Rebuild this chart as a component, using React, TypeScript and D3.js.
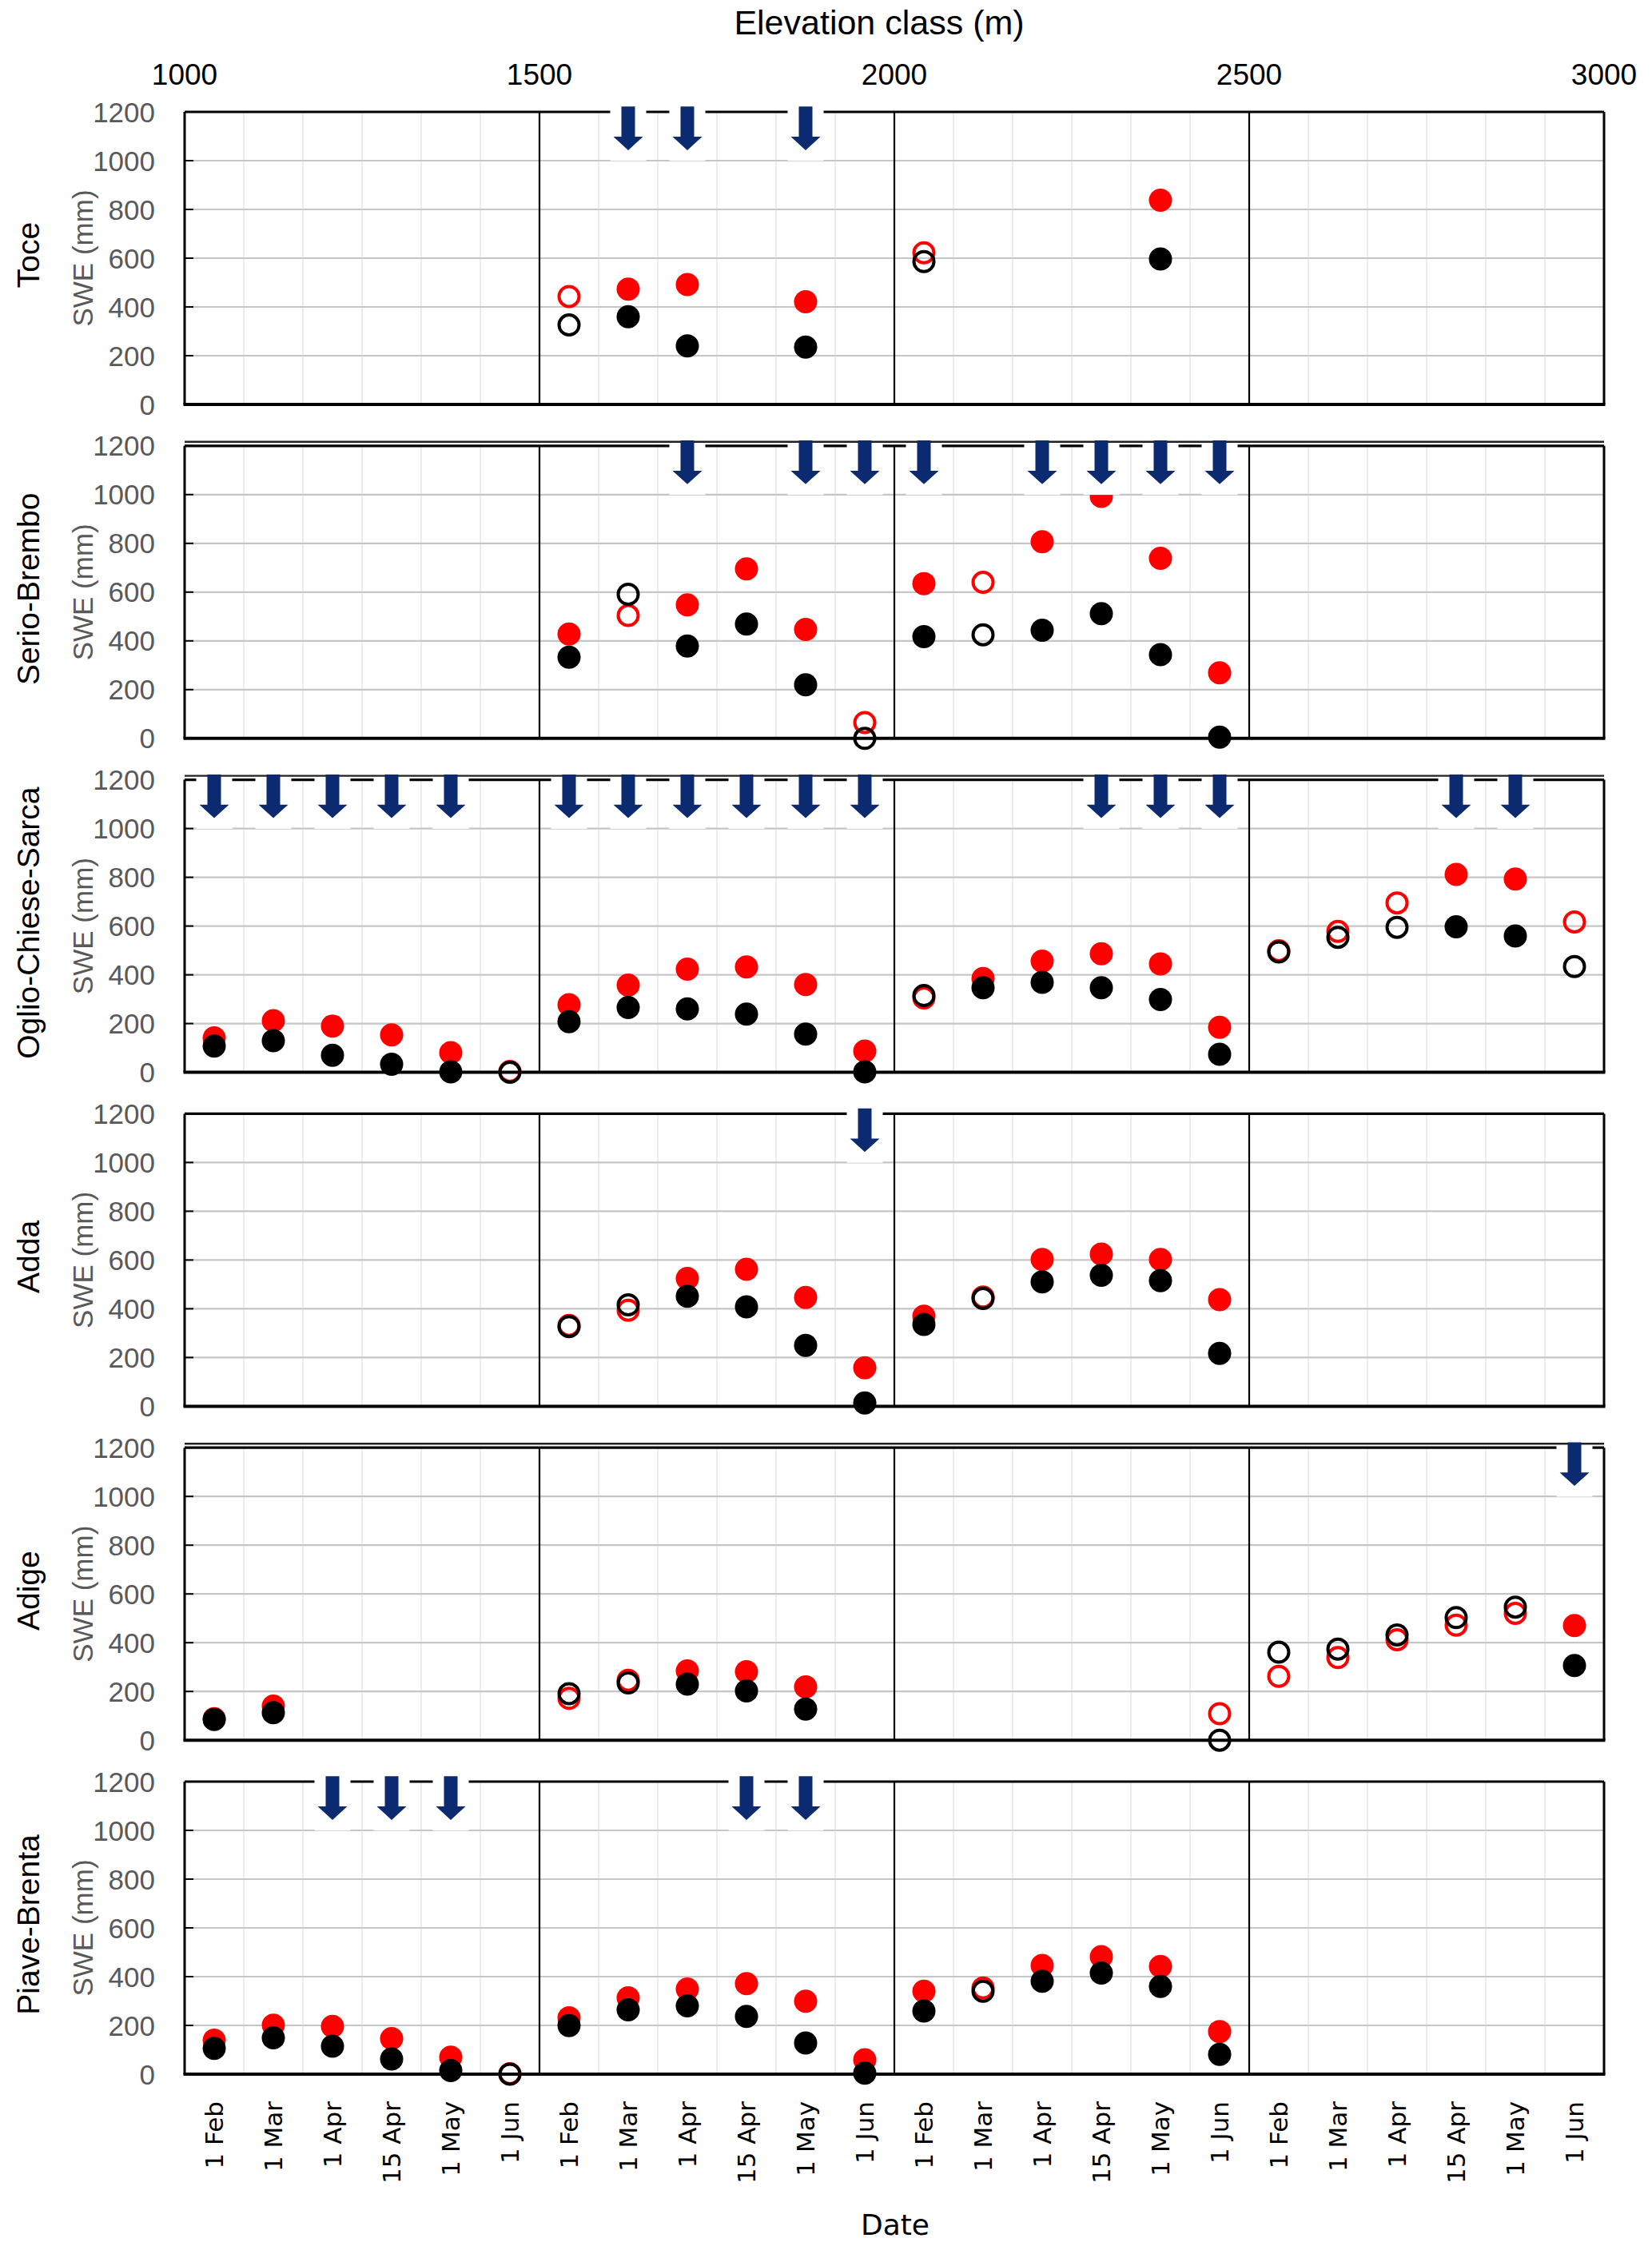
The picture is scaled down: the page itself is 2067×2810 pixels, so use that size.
import * as d3 from 'd3';

// categories
const dates = ['1 Feb', '1 Mar', '1 Apr', '15 Apr', '1 May', '1 Jun'];
const elevClasses = [1000, 1500, 2000, 2500];
const elevTicks = [1000, 1500, 2000, 2500, 3000];
const basinNames = ['Toce', 'Serio-Brembo', 'Oglio-Chiese-Sarca', 'Adda', 'Adige', 'Piave-Brenta'];

const n = null;
const empty = [n, n, n, n, n, n];

// SWE (mm), one row per elevation class, one column per date
const toceRed = [empty, [443, 473, 492, n, 421, n], [622, n, n, n, 838, n], empty];
const toceBlack = [empty, [326, 360, 240, n, 235, n], [586, n, n, n, 597, n], empty];
const toceFilled = [[0, 0, 0, 0, 0, 0], [0, 1, 1, 0, 1, 0], [0, 0, 0, 0, 1, 0], [0, 0, 0, 0, 0, 0]];
const toceArrows = [[0, 0, 0, 0, 0, 0], [0, 1, 1, 0, 1, 0], [0, 0, 0, 0, 0, 0], [0, 0, 0, 0, 0, 0]];

const serioRed = [empty, [428, 504, 548, 695, 447, 65], [635, 640, 807, 993, 739, 269], empty];
const serioBlack = [empty, [333, 591, 379, 469, 220, 0], [417, 425, 444, 512, 344, 5], empty];
const serioFilled = [[0, 0, 0, 0, 0, 0], [1, 0, 1, 1, 1, 0], [1, 0, 1, 1, 1, 1], [0, 0, 0, 0, 0, 0]];
const serioArrows = [[0, 0, 0, 0, 0, 0], [0, 0, 1, 0, 1, 1], [1, 0, 1, 1, 1, 1], [0, 0, 0, 0, 0, 0]];

const oglioRed = [[141, 212, 190, 154, 81, 4], [277, 358, 423, 432, 360, 87], [305, 385, 456, 486, 445, 185], [499, 578, 695, 812, 793, 617]];
const oglioBlack = [[108, 130, 70, 33, 2, 0], [208, 266, 260, 239, 157, 2], [315, 347, 369, 347, 299, 74], [494, 554, 595, 597, 559, 434]];
const oglioFilled = [[1, 1, 1, 1, 1, 0], [1, 1, 1, 1, 1, 1], [0, 1, 1, 1, 1, 1], [0, 0, 0, 1, 1, 0]];
const oglioArrows = [[1, 1, 1, 1, 1, 0], [1, 1, 1, 1, 1, 1], [0, 0, 0, 1, 1, 1], [0, 0, 0, 1, 1, 0]];

const addaRed = [empty, [332, 394, 524, 562, 446, 158], [369, 448, 602, 624, 602, 437], empty];
const addaBlack = [empty, [327, 416, 451, 408, 250, 14], [336, 442, 510, 537, 515, 217], empty];
const addaFilled = [[0, 0, 0, 0, 0, 0], [0, 0, 1, 1, 1, 1], [1, 0, 1, 1, 1, 1], [0, 0, 0, 0, 0, 0]];
const addaArrows = [[0, 0, 0, 0, 0, 0], [0, 0, 0, 0, 0, 1], [0, 0, 0, 0, 0, 0], [0, 0, 0, 0, 0, 0]];

const adigeRed = [[88, 140, n, n, n, n], [172, 246, 284, 281, 219, n], [n, n, n, n, n, 109], [262, 339, 412, 472, 520, 470]];
const adigeBlack = [[85, 113, n, n, n, n], [191, 235, 230, 202, 128, n], [n, n, n, n, n, 0], [361, 374, 432, 503, 546, 306]];
const adigeFilled = [[1, 1, 0, 0, 0, 0], [0, 0, 1, 1, 1, 0], [0, 0, 0, 0, 0, 0], [0, 0, 0, 0, 0, 1]];
const adigeArrows = [[0, 0, 0, 0, 0, 0], [0, 0, 0, 0, 0, 0], [0, 0, 0, 0, 0, 0], [0, 0, 0, 0, 0, 1]];

const piaveRed = [[139, 201, 196, 146, 70, 2], [231, 313, 349, 371, 299, 59], [340, 353, 446, 482, 442, 175], empty];
const piaveBlack = [[106, 149, 115, 62, 15, 0], [199, 264, 280, 237, 128, 4], [259, 340, 381, 415, 360, 81], empty];
const piaveFilled = [[1, 1, 1, 1, 1, 0], [1, 1, 1, 1, 1, 1], [1, 0, 1, 1, 1, 1], [0, 0, 0, 0, 0, 0]];
const piaveArrows = [[0, 0, 1, 1, 1, 0], [0, 0, 0, 1, 1, 0], [0, 0, 0, 0, 0, 0], [0, 0, 0, 0, 0, 0]];

const basins = [
  { red: toceRed, black: toceBlack, filled: toceFilled, arrows: toceArrows },
  { red: serioRed, black: serioBlack, filled: serioFilled, arrows: serioArrows },
  { red: oglioRed, black: oglioBlack, filled: oglioFilled, arrows: oglioArrows },
  { red: addaRed, black: addaBlack, filled: addaFilled, arrows: addaArrows },
  { red: adigeRed, black: adigeBlack, filled: adigeFilled, arrows: adigeArrows },
  { red: piaveRed, black: piaveBlack, filled: piaveFilled, arrows: piaveArrows },
].map((b, i) => ({ ...b, name: basinNames[i] }));

// layout
const W = 2067;
const H = 2810;
const firstTop = 140;
const panelStep = 417.8;
const panelH = 366;
const doubleTop = [false, true, true, false, true, false];

const sans = 'Liberation Sans, Arial, sans-serif';
const dejavu = 'DejaVu Sans, sans-serif';
const ARROW = '#0b2a6f';

const x = d3.scaleLinear().domain([1000, 3000]).range([231, 2007]);
const band = d3.scaleBand().domain(dates).range([0, x(1500) - x(1000)]);
const cxOf = (c: number, d: number) => x(elevClasses[c]) + (band(dates[d]) as number) + band.bandwidth() / 2;

function Panel({ basin, index }: { basin: any; index: number }) {
  const top = firstTop + index * panelStep;
  const y = d3.scaleLinear().domain([0, 1200]).range([top + panelH, top]);
  const yTicks = y.ticks(6);
  const left = x(1000);
  const right = x(3000);

  const minor: number[] = [];
  elevClasses.forEach((e) => {
    dates.forEach((_, d) => {
      if (d > 0) minor.push(x(e) + (band(dates[d]) as number));
    });
  });

  const pts = (series: (number | null)[][], color: string) =>
    series.flatMap((row, c) =>
      row.map((v, d) => {
        if (v == null) return null;
        const filled = basin.filled[c][d] === 1;
        return filled ? (
          <circle key={`${color}-${c}-${d}`} cx={cxOf(c, d)} cy={y(v)} r={14.5} fill={color} />
        ) : (
          <circle key={`${color}-${c}-${d}`} cx={cxOf(c, d)} cy={y(v)} r={12.5} fill="none" stroke={color} strokeWidth={4} />
        );
      })
    );

  const arrowPos: number[] = [];
  basin.arrows.forEach((row: number[], c: number) =>
    row.forEach((a, d) => {
      if (a) arrowPos.push(cxOf(c, d));
    })
  );

  const yTop = y(1222);
  const yHead = y(1098);
  const yTip = y(1043);
  const midY = top + panelH / 2;

  return (
    <g>
      {minor.map((mx, i) => (
        <line key={`m${i}`} x1={mx} x2={mx} y1={top} y2={top + panelH} stroke="#e0e0e0" strokeWidth={1.2} />
      ))}
      {yTicks.filter((t) => t > 0 && t < 1200).map((t) => (
        <line key={`h${t}`} x1={left} x2={right} y1={y(t)} y2={y(t)} stroke="#c6c6c6" strokeWidth={2.2} />
      ))}
      {[1500, 2000, 2500].map((e) => (
        <line key={`s${e}`} x1={x(e)} x2={x(e)} y1={top} y2={top + panelH} stroke="#000" strokeWidth={2.2} />
      ))}
      <line x1={left} x2={left} y1={top} y2={top + panelH} stroke="#000" strokeWidth={3} />
      <line x1={right} x2={right} y1={top} y2={top + panelH} stroke="#000" strokeWidth={3} />
      <line x1={left} x2={right} y1={top} y2={top} stroke="#000" strokeWidth={3.2} />
      <line x1={left - 1.5} x2={right + 1.5} y1={top + panelH} y2={top + panelH} stroke="#000" strokeWidth={4} />
      {yTicks.map((t) => (
        <line key={`tk${t}`} x1={left} x2={left + 11} y1={y(t)} y2={y(t)} stroke="#000" strokeWidth={2} />
      ))}

      {pts(basin.red, '#ff0000')}
      {pts(basin.black, '#000000')}

      {arrowPos.map((ax, i) => (
        <rect key={`b${i}`} x={ax - 22.5} y={y(1226)} width={45} height={y(999) - y(1226)} fill="#fff" />
      ))}
      {doubleTop[index] && (
        <line x1={left} x2={right} y1={top - 5} y2={top - 5} stroke="#222" strokeWidth={2.4} />
      )}
      {arrowPos.map((ax, i) => (
        <path
          key={`a${i}`}
          d={`M${ax - 8.5},${yTop} L${ax + 8.5},${yTop} L${ax + 8.5},${yHead} L${ax + 18.5},${yHead} L${ax},${yTip} L${ax - 18.5},${yHead} L${ax - 8.5},${yHead} Z`}
          fill={ARROW}
        />
      ))}

      {yTicks.map((t) => (
        <text key={`tl${t}`} x={194} y={y(t)} textAnchor="end" dominantBaseline="central" fontFamily={sans} fontSize={35} fill="#595959">
          {t}
        </text>
      ))}
      <text transform={`translate(103,${midY}) rotate(-90)`} textAnchor="middle" dominantBaseline="central" fontFamily={sans} fontSize={35} fill="#595959">
        SWE (mm)
      </text>
      <text transform={`translate(35,${midY - 4}) rotate(-90)`} textAnchor="middle" dominantBaseline="central" fontFamily={sans} fontSize={39} fill="#000">
        {basin.name}
      </text>
    </g>
  );
}

export default function App() {
  const lastBottom = firstTop + (basins.length - 1) * panelStep + panelH;
  return (
    <svg width={W} height={H} style={{ position: 'absolute', left: 0, top: 0, background: '#fff' }}>
      <rect width={W} height={H} fill="#fff" />
      <text x={1100} y={28} textAnchor="middle" dominantBaseline="central" fontFamily={sans} fontSize={43} fill="#000">
        Elevation class (m)
      </text>
      {elevTicks.map((e) => (
        <text key={e} x={x(e)} y={93} textAnchor="middle" dominantBaseline="central" fontFamily={sans} fontSize={37} fill="#000">
          {e}
        </text>
      ))}
      {basins.map((b, i) => (
        <Panel key={b.name} basin={b} index={i} />
      ))}
      {elevClasses.flatMap((e, c) =>
        dates.map((d, di) => (
          <text
            key={`${e}-${d}`}
            transform={`translate(${cxOf(c, di)},${lastBottom + 34}) rotate(-90)`}
            textAnchor="end"
            dominantBaseline="central"
            fontFamily={dejavu}
            fontSize={31}
            fill="#000"
          >
            {d}
          </text>
        ))
      )}
      <text x={1120} y={2783} textAnchor="middle" dominantBaseline="central" fontFamily={dejavu} fontSize={36} fill="#000">
        Date
      </text>
    </svg>
  );
}
